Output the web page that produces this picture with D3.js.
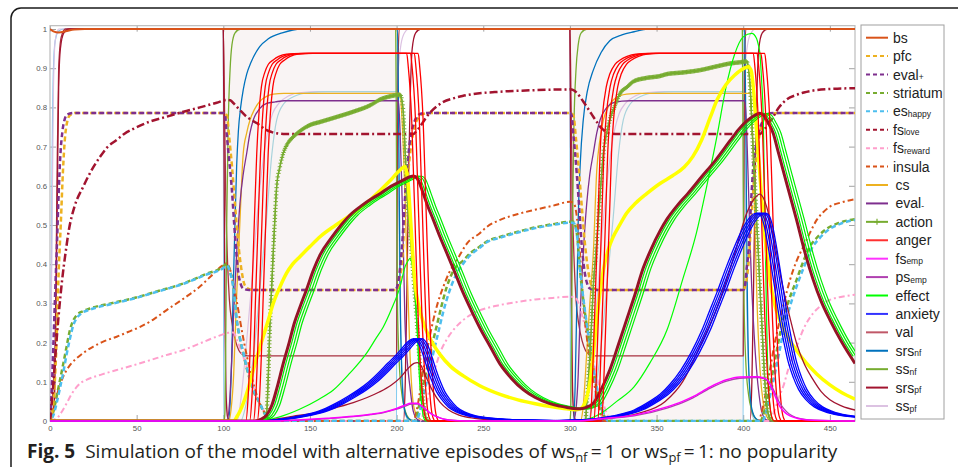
<!DOCTYPE html>
<html>
<head>
<meta charset="utf-8">
<script src="https://cdn.jsdelivr.net/npm/d3@7"></script>
<style>
  body { margin: 0; background: #fff; }
  svg { display: block; }
</style>
</head>
<body>
<svg id="chart" width="958" height="467"></svg>
<script>
// ---------- axis ticks and episodes ----------
const xTicks = [0, 50, 100, 150, 200, 250, 300, 350, 400, 450];
const yTicks = [0, 0.1, 0.2, 0.3, 0.4, 0.5, 0.6, 0.7, 0.8, 0.9, 1];
const episodeSpans = [[100, 200], [300, 400]];
const timeMax = 464.5;

// ---------- state trajectories: [time, value] ----------
const bs = [[0,1],[2,0.994],[5,0.991],[9,0.994],[14,0.999],[20,1],[464.5,1]];

const pfc = [[0,0],[2,0.05],[3.5,0.17],[5,0.38],[6.2,0.5],[7.5,0.64],[8.6,0.72],[10,0.765],[11.5,0.78],[15,0.786],[100,0.786],[102,0.78],[103.5,0.72],[105,0.65],[106.8,0.55],[108.5,0.46],[110.5,0.385],[112.5,0.345],[115,0.336],[118,0.334],[200,0.334],[201.5,0.35],[203,0.4],[204.5,0.5],[206,0.6],[207.5,0.67],[209,0.72],[211.5,0.765],[215,0.783],[220,0.786],[300,0.786],[302,0.78],[303.5,0.72],[305,0.65],[306.8,0.55],[308.5,0.46],[310.5,0.385],[312.5,0.345],[315,0.336],[318,0.334],[400,0.334],[401.5,0.35],[403,0.4],[404.5,0.5],[406,0.6],[407.5,0.67],[409,0.72],[411.5,0.765],[415,0.783],[420,0.786],[464.5,0.786]];

const evalPos = [[0,0],[1,0.08],[2,0.2],[3,0.33],[4,0.45],[5,0.58],[6,0.68],[7.2,0.74],[8.5,0.77],[10,0.782],[14,0.786],[100,0.786],[101,0.78],[102,0.73],[103,0.683],[104.8,0.598],[106.8,0.47],[108.7,0.377],[110,0.35],[111.5,0.338],[115,0.334],[199,0.334],[200.5,0.345],[202,0.39],[203.5,0.47],[205,0.58],[206.8,0.68],[208.5,0.735],[210,0.76],[213.5,0.783],[218,0.786],[300,0.786],[301,0.78],[302,0.73],[303,0.683],[304.8,0.58],[306.8,0.45],[308.5,0.38],[310,0.35],[311.5,0.338],[315,0.334],[400,0.334],[401,0.345],[402,0.39],[403,0.43],[404.8,0.58],[406,0.66],[407.7,0.708],[409.5,0.745],[411.6,0.768],[415.4,0.785],[420,0.786],[464.5,0.786]];

const striatum = [[0,0],[2,0.025],[3.8,0.062],[5.8,0.105],[7.7,0.147],[9.6,0.19],[11.5,0.232],[13.5,0.257],[15.4,0.27],[19,0.28],[23,0.287],[35,0.3],[48,0.313],[62,0.331],[77,0.351],[90,0.375],[100,0.394],[102,0.402],[104,0.38],[105.8,0.343],[107.7,0.258],[109.6,0.21],[111.5,0.173],[113.5,0.135],[115.4,0.105],[118,0.07],[121,0.045],[123,0.025],[125,0.011],[128,0],[210,0],[211.5,0.01],[213,0.04],[215,0.085],[217.3,0.13],[220,0.185],[223,0.24],[226,0.295],[229,0.343],[233,0.385],[238.5,0.41],[243,0.43],[248,0.445],[252,0.458],[260,0.47],[270,0.483],[280,0.494],[290,0.502],[300,0.508],[302,0.508],[304,0.479],[305.8,0.385],[308.7,0.275],[311.6,0.19],[314.5,0.105],[317.4,0.045],[320,0.011],[322,0],[410,0],[411.5,0.015],[413.5,0.05],[415.5,0.09],[417.3,0.13],[420,0.195],[423,0.258],[426.5,0.31],[430.8,0.36],[434.5,0.405],[438.5,0.445],[443,0.47],[448,0.49],[455,0.505],[464.5,0.515]];

const esHappy = [[0,0],[2,0.015],[3.8,0.045],[5.8,0.085],[7.7,0.125],[9.6,0.17],[11.5,0.21],[13.5,0.245],[15.4,0.262],[18,0.274],[23,0.284],[35,0.298],[48,0.312],[62,0.33],[77,0.35],[90,0.373],[100,0.39],[102,0.397],[104,0.378],[105.8,0.34],[107.7,0.26],[109.6,0.212],[111.5,0.175],[113.5,0.138],[115.4,0.108],[118,0.073],[121,0.047],[123,0.027],[125,0.012],[128,0],[211,0],[212.5,0.01],[214,0.035],[216,0.075],[218.5,0.12],[221,0.17],[224,0.225],[227,0.28],[230,0.325],[234,0.37],[238.5,0.402],[243,0.425],[248,0.442],[252,0.456],[260,0.468],[270,0.481],[280,0.492],[290,0.5],[300,0.506],[302,0.506],[304,0.477],[305.8,0.39],[308.7,0.28],[311.6,0.195],[314.5,0.11],[317.4,0.05],[320,0.013],[322,0],[411,0],[412.5,0.012],[414.5,0.045],[416.5,0.085],[418.5,0.125],[421,0.18],[424,0.245],[427.5,0.3],[431.5,0.352],[435.5,0.398],[439.5,0.44],[444,0.466],[449,0.487],[456,0.503],[464.5,0.513]];

const fsLove = [[0,0],[1.5,0.07],[3,0.16],[5,0.27],[7,0.36],[9,0.43],[11,0.49],[14,0.545],[19.2,0.598],[24,0.64],[28.9,0.674],[33,0.698],[38.5,0.717],[43,0.733],[48,0.745],[57.7,0.764],[67,0.776],[77,0.789],[86.5,0.8],[96.2,0.812],[102,0.819],[104,0.818],[106,0.81],[107.7,0.802],[110.5,0.789],[113.5,0.776],[116.5,0.767],[119.3,0.76],[122,0.751],[125,0.742],[128,0.737],[130.8,0.734],[136,0.732],[209.6,0.732],[211.5,0.74],[213.5,0.751],[215.5,0.764],[217.3,0.776],[220,0.79],[223,0.802],[227,0.814],[232.7,0.823],[238,0.829],[244.3,0.834],[259.7,0.84],[280,0.844],[300,0.846],[302,0.844],[304,0.837],[305.8,0.827],[307.7,0.815],[309.7,0.802],[311.6,0.789],[313.5,0.776],[315.5,0.763],[317.4,0.751],[319.3,0.743],[321.2,0.736],[324,0.733],[328,0.732],[409.7,0.732],[411.5,0.74],[413.5,0.751],[415.5,0.764],[417.3,0.776],[419,0.789],[421,0.802],[425,0.82],[430.8,0.832],[435,0.838],[440.4,0.843],[450,0.847],[464.5,0.849]];

const fsReward = [[0,0],[3,0.005],[5,0.012],[7,0.025],[9.6,0.045],[12,0.065],[15.4,0.087],[18,0.098],[21,0.105],[30,0.119],[38.5,0.13],[48,0.142],[57.7,0.155],[67,0.168],[77,0.181],[86,0.197],[96,0.215],[103,0.225],[105.8,0.226],[108,0.205],[111.5,0.164],[114.5,0.125],[117.3,0.087],[120,0.055],[123,0.028],[125.5,0.01],[128,0],[213.5,0],[215.5,0.02],[217.5,0.05],[219.3,0.087],[222,0.13],[225,0.173],[228.5,0.205],[232.7,0.232],[238,0.256],[244.3,0.275],[252,0.288],[259.7,0.296],[270,0.304],[280,0.31],[290,0.314],[300,0.317],[302,0.316],[304,0.31],[305.8,0.29],[307.7,0.258],[309.7,0.228],[311.6,0.198],[313.5,0.155],[315.5,0.113],[317.4,0.075],[319.3,0.045],[321.2,0.02],[323,0.005],[325,0],[415.4,0],[417.5,0.02],[419.5,0.045],[421.5,0.07],[423,0.087],[426.5,0.14],[430.8,0.19],[435,0.237],[440.4,0.275],[445,0.295],[450,0.309],[457,0.317],[464.5,0.322]];

const insula = [[0,0],[1.5,0.02],[3,0.045],[4.8,0.079],[7,0.107],[9.6,0.13],[12.5,0.148],[15.4,0.16],[20,0.176],[25,0.19],[31,0.203],[38.5,0.215],[45,0.227],[52,0.24],[60,0.26],[67.3,0.283],[77,0.312],[86.5,0.343],[93,0.37],[100,0.398],[102,0.402],[104,0.385],[106,0.345],[108,0.3],[109.6,0.258],[112,0.2],[115.4,0.13],[118,0.085],[120.5,0.05],[123,0.028],[125,0.012],[127.5,0],[209.6,0],[211.5,0.025],[213.5,0.075],[215.4,0.13],[218,0.19],[221.2,0.258],[224,0.305],[227,0.343],[230.5,0.38],[234.7,0.41],[241,0.455],[248,0.479],[252,0.495],[259.7,0.513],[270,0.528],[279,0.538],[290,0.549],[300,0.559],[302,0.556],[303,0.547],[304.5,0.5],[305.8,0.428],[307.7,0.3],[309.7,0.215],[312.6,0.13],[315.5,0.062],[318.3,0.011],[320,0],[408.7,0],[410.5,0.02],[412.5,0.06],[415.4,0.13],[418,0.195],[421.2,0.258],[424,0.31],[427,0.36],[430.5,0.405],[434.7,0.445],[438.5,0.48],[442.4,0.513],[446,0.532],[450,0.547],[457,0.558],[464.5,0.566]];

const cs = [[0,0],[103,0],[104.5,0.03],[106,0.12],[107.5,0.3],[109.5,0.5],[111.5,0.683],[113.5,0.735],[115.4,0.768],[118,0.795],[121,0.815],[125,0.828],[128.8,0.834],[135,0.836],[202,0.836],[203,0.78],[204,0.683],[205,0.55],[205.8,0.428],[207.7,0.173],[209.6,0.045],[211.5,0.015],[214,0.004],[217,0],[306,0],[307.5,0.03],[309.7,0.173],[311.5,0.3],[313.5,0.428],[315.5,0.64],[317.4,0.72],[319.3,0.768],[322,0.8],[325,0.819],[329,0.83],[332.7,0.834],[340,0.836],[404,0.836],[405,0.76],[405.8,0.683],[406.8,0.5],[407.7,0.343],[409.7,0.13],[411.6,0.045],[413.5,0.012],[416,0],[464.5,0]];

const evalNeg = [[0,0],[102,0],[103.5,0.04],[104.5,0.12],[105.8,0.258],[107.7,0.428],[109.6,0.555],[111.5,0.63],[113.5,0.683],[115.4,0.735],[117.3,0.768],[121,0.797],[125,0.81],[130,0.814],[135,0.817],[201,0.817],[202,0.74],[203,0.598],[204,0.42],[204.8,0.258],[206,0.16],[207.7,0.087],[209.6,0.025],[212,0.004],[215,0],[302,0],[303.5,0.03],[304.8,0.12],[305.8,0.258],[307.7,0.428],[309.7,0.555],[311.5,0.63],[313.5,0.683],[315.5,0.735],[317.4,0.768],[321,0.798],[325,0.812],[330,0.816],[335,0.817],[401,0.817],[402,0.74],[403,0.598],[404,0.45],[404.9,0.343],[406.3,0.22],[407.7,0.13],[409.2,0.065],[410.6,0.025],[413,0.004],[416,0],[464.5,0]];

const action = [[0,0],[124,0],[125,0.02],[126,0.12],[127,0.258],[128,0.35],[128.8,0.428],[129.8,0.52],[130.8,0.598],[132.5,0.645],[134.6,0.683],[137,0.707],[140.4,0.725],[145,0.742],[150,0.755],[156,0.763],[165,0.775],[175,0.789],[185,0.806],[190.4,0.82],[196,0.828],[202,0.832],[203,0.82],[203.9,0.785],[205,0.68],[205.8,0.598],[207.2,0.51],[208.7,0.428],[210.2,0.34],[211.6,0.258],[213,0.17],[214.5,0.087],[216,0.03],[217.3,0.005],[219,0],[309,0],[309.7,0.045],[310.6,0.1],[311.6,0.173],[312.5,0.25],[313.5,0.343],[315,0.43],[316.4,0.513],[317.8,0.6],[319.3,0.683],[321,0.73],[323,0.768],[326,0.805],[329,0.836],[333,0.852],[336.6,0.866],[344,0.875],[352,0.88],[356,0.885],[365,0.889],[375,0.895],[385,0.905],[392.4,0.912],[398,0.915],[402,0.917],[403,0.9],[404,0.853],[405,0.76],[405.8,0.683],[406.8,0.6],[407.7,0.513],[408.7,0.43],[409.6,0.343],[410.6,0.26],[411.6,0.173],[412.5,0.1],[413.5,0.045],[415,0.01],[416.5,0],[464.5,0]];

const anger = [[0,0],[113,0],[114.3,0.06],[115.4,0.173],[116.3,0.3],[117.3,0.428],[118.3,0.56],[119.3,0.683],[120.5,0.78],[122,0.853],[124,0.89],[126,0.91],[128.8,0.921],[132,0.93],[136.5,0.936],[145,0.938],[205.8,0.938],[206.8,0.9],[207.7,0.85],[208.7,0.768],[209.6,0.65],[210.6,0.513],[211.5,0.385],[212.5,0.258],[213.5,0.16],[214.5,0.087],[215.5,0.035],[216.5,0.01],[218,0],[311.6,0],[312.6,0.06],[313.5,0.173],[314.5,0.3],[315.5,0.428],[316.5,0.56],[317.4,0.683],[318.8,0.78],[321,0.853],[323,0.885],[326,0.91],[329,0.921],[333,0.93],[338,0.936],[345,0.938],[405.8,0.938],[406.8,0.9],[407.7,0.85],[408.7,0.768],[409.6,0.65],[410.6,0.513],[411.5,0.385],[412.5,0.258],[413.5,0.16],[414.5,0.087],[415.5,0.035],[416.5,0.01],[418,0],[464.5,0]];
const angerLags = [0, 2.2, 4.4, 6.6];

const fsEmp = [[0,0],[130,0],[145,0.003],[160,0.007],[175,0.012],[185,0.017],[192,0.022],[200,0.032],[205,0.041],[208,0.045],[212,0.045],[214.5,0.038],[217.3,0.028],[220,0.018],[223,0.011],[227,0.005],[233,0.001],[240,0],[305,0],[318,0.006],[337,0.015],[356,0.036],[365,0.05],[371,0.062],[381,0.087],[390.4,0.105],[398,0.112],[407.7,0.113],[413.5,0.106],[415.5,0.093],[417.3,0.075],[419.5,0.052],[421,0.038],[424,0.022],[427,0.013],[432,0.006],[440,0.002],[464.5,0]];

const psEmp = [[0,0],[130,0],[145,0.002],[160,0.006],[175,0.011],[185,0.016],[192,0.021],[200,0.03],[205,0.038],[208.5,0.043],[212.5,0.043],[215,0.036],[218,0.025],[221,0.016],[224,0.01],[228,0.004],[235,0.001],[242,0],[305,0],[318,0.005],[337,0.013],[356,0.033],[365,0.047],[371,0.059],[381,0.084],[390.4,0.102],[398,0.109],[408,0.111],[414,0.104],[416,0.092],[418,0.075],[420,0.055],[422,0.04],[425,0.024],[428,0.014],[433,0.006],[441,0.002],[464.5,0]];

const effectPulse = [[0,0],[120,0],[132,0.01],[144,0.03],[155,0.055],[163.5,0.079],[173,0.122],[182.7,0.173],[188,0.21],[192.3,0.24],[197,0.285],[202,0.343],[205,0.395],[206.8,0.41],[207.7,0.415],[208.7,0.405],[209.6,0.377],[210.6,0.33],[211.6,0.258],[212.5,0.17],[213.5,0.087],[214.5,0.04],[215.5,0.01],[217,0],[300,0],[310,0.005],[318,0.02],[327,0.05],[337,0.087],[346,0.147],[356,0.232],[365,0.36],[373,0.48],[379,0.6],[385,0.73],[390,0.85],[395,0.935],[400,0.98],[404.9,0.989],[407.7,0.976],[408.7,0.96],[409.6,0.938],[410.6,0.87],[411.6,0.768],[412.5,0.513],[413.5,0.258],[414.5,0.087],[415.5,0.035],[416.4,0.01],[418,0],[464.5,0]];

const effectWave = [[0,0],[120.5,0],[124.5,0.005],[127.5,0.015],[130.5,0.04],[133.5,0.085],[137.1,0.147],[140.5,0.2],[143.5,0.25],[146.7,0.29],[150.5,0.335],[154.5,0.385],[158.5,0.425],[164.5,0.465],[170.5,0.5],[175.5,0.525],[182.5,0.55],[188.5,0.568],[192.9,0.58],[197.5,0.594],[202.5,0.606],[206.5,0.615],[210.2,0.623],[212.1,0.625],[214.5,0.618],[217.9,0.58],[220.5,0.548],[223.7,0.513],[227.5,0.47],[231.5,0.428],[236,0.38],[241,0.326],[245.5,0.283],[250.5,0.238],[256.5,0.19],[262.2,0.145],[268.5,0.11],[275.5,0.08],[282.5,0.06],[290.5,0.045],[296.8,0.038],[301.5,0.034],[304.5,0.032],[308.3,0.031],[311.5,0.034],[316,0.045],[320.5,0.08],[325.5,0.13],[330.5,0.195],[335.2,0.258],[340,0.322],[344.8,0.39],[349.5,0.44],[354.5,0.485],[358.5,0.515],[364.5,0.55],[370.5,0.58],[378.5,0.623],[386.5,0.665],[394.9,0.715],[399.5,0.742],[404.5,0.765],[408.5,0.778],[412.1,0.785],[414.5,0.779],[417,0.76],[419.8,0.734],[422.5,0.69],[425.5,0.64],[429.5,0.575],[433.3,0.513],[437.5,0.44],[442.9,0.36],[447.5,0.305],[452.5,0.258],[459.5,0.2],[464.5,0.165]];
const effectLags = [-1, 0.5, 2];

const anxiety = [[0,0],[120,0],[135,0.006],[144,0.013],[155,0.025],[164,0.043],[172,0.063],[178,0.08],[184,0.1],[190,0.125],[195,0.148],[199,0.165],[203,0.185],[206,0.2],[208.5,0.208],[210,0.21],[211.5,0.205],[213.5,0.19],[215.5,0.165],[218,0.13],[220.5,0.1],[223,0.075],[226,0.055],[230,0.035],[235,0.022],[241,0.013],[250,0.007],[260,0.004],[275,0.002],[290,0.001],[300,0.002],[310,0.004],[318,0.008],[327,0.015],[337,0.028],[346,0.05],[352,0.068],[358,0.095],[364,0.13],[370,0.175],[376,0.23],[380.5,0.28],[385,0.33],[390,0.39],[395,0.445],[399,0.485],[403,0.515],[406,0.528],[408,0.53],[410,0.525],[412,0.5],[414,0.455],[416,0.4],[418.5,0.33],[421,0.258],[423.5,0.2],[426,0.15],[429,0.11],[432,0.08],[436,0.055],[441,0.036],[447,0.024],[455,0.015],[464.5,0.01]];
const anxietyLags = [0, 1.2, 2.4, 3.6, 4.8];

const val = [[0,0],[3,0.2],[4,0.6],[5,0.9],[6.5,0.98],[9,1],[100,1],[100.7,0.8],[101.5,0.55],[102.5,0.4],[103.5,0.31],[105,0.25],[107,0.205],[109,0.18],[111,0.17],[114,0.166],[200,0.166],[200.3,0.5],[200.8,0.9],[201.5,1],[300,1],[300.7,0.8],[301.5,0.55],[302.5,0.4],[303.5,0.31],[305,0.25],[307,0.205],[309,0.18],[311,0.17],[314,0.166],[400,0.166],[400.3,0.5],[400.8,0.9],[401.5,1],[464.5,1]];

const srsNf = [[0,0],[103,0],[104,0.05],[104.8,0.15],[105.8,0.35],[106.8,0.513],[107.7,0.65],[108.7,0.74],[110,0.8],[111.5,0.845],[113.5,0.885],[116,0.915],[121,0.955],[126,0.975],[134,0.99],[145,1],[200.5,1],[201.3,0.7],[202,0.35],[203,0.12],[204.5,0.03],[207,0.005],[210,0],[302,0],[303,0.087],[304,0.3],[304.8,0.513],[306,0.66],[307.7,0.768],[310,0.84],[313.5,0.895],[318,0.94],[323,0.97],[330,0.985],[337,0.993],[345,1],[400.8,1],[401.6,0.7],[402.3,0.35],[403.3,0.12],[405,0.03],[407.5,0.005],[410,0],[464.5,0]];

const ssNf = [[0,0],[100.5,0],[101,0.03],[101.5,0.25],[102,0.513],[102.8,0.75],[103.9,0.895],[105,0.96],[106.8,0.99],[110,1],[199.5,1],[200,0.6],[200.5,0.3],[201.5,0.15],[203,0.07],[205,0.025],[207,0.007],[210,0],[300,0],[300.5,0.03],[301,0.25],[301.5,0.513],[302.3,0.75],[303.5,0.895],[304.8,0.96],[306.5,0.99],[310,1],[399.5,1],[400,0.6],[400.5,0.3],[401.5,0.15],[403,0.07],[405,0.025],[407,0.007],[410,0],[464.5,0]];

const srsPf = [[0,0],[2.5,0.05],[3.5,0.3],[4.3,0.6],[5,0.85],[6,0.95],[8,0.99],[11,1],[100,1],[100.4,0.7],[100.9,0.3],[101.5,0.08],[102.5,0.01],[104,0],[204,0],[205,0.1],[206,0.35],[207,0.65],[208,0.85],[209,0.95],[211,0.99],[214,1],[300,1],[300.4,0.7],[300.9,0.3],[301.5,0.08],[302.5,0.01],[304,0],[404,0],[405,0.1],[406,0.35],[407,0.65],[408,0.85],[409,0.95],[411,0.99],[414,1],[464.5,1]];

const ssPf = [[0,0],[1,0.4],[2,0.85],[3,0.97],[5,1],[100,1],[100.5,0.5],[101.5,0.1],[103,0],[108,0],[110,0.05],[113,0.18],[116,0.33],[119.3,0.513],[122,0.63],[125,0.725],[128.5,0.785],[132,0.81],[138,0.83],[145,0.838],[155,0.84],[200,0.84],[201,0.9],[202.5,0.96],[204.5,0.99],[207,1],[300,1],[300.5,0.5],[301.5,0.1],[303,0],[308,0],[310,0.05],[313,0.18],[316,0.33],[319.3,0.513],[322,0.63],[325,0.725],[328.5,0.785],[332,0.81],[338,0.83],[345,0.838],[355,0.84],[400,0.84],[401,0.9],[402.5,0.96],[404.5,0.99],[407,1],[464.5,1]];

// unlabelled traces
const skyTrace = [[0,0],[0.7,0.3],[1.3,0.7],[2,0.9],[3,0.97],[5,0.995],[8,1],[100,1],[100.3,0],[200,0],[200.3,1],[300,1],[300.3,0],[400,0],[400.3,1],[464.5,1]];

const tealTrace = [[0,0],[110,0],[113,0.04],[117,0.15],[121,0.33],[125,0.52],[128,0.68],[130.8,0.768],[135,0.81],[140.4,0.827],[150,0.838],[160,0.84],[200,0.84],[201,0.6],[202,0.3],[203.5,0.1],[205,0.02],[207,0],[310,0],[313,0.04],[317,0.15],[321,0.33],[325,0.52],[328,0.68],[330.8,0.768],[335,0.81],[340.4,0.827],[350,0.838],[360,0.84],[400,0.84],[401,0.6],[402,0.3],[403.5,0.1],[405,0.02],[407,0],[464.5,0]];

const yellowWave = [[0,0],[105.8,0],[108,0.012],[111.5,0.045],[114.5,0.085],[117.3,0.13],[120,0.172],[123,0.215],[126,0.258],[128.8,0.3],[132.5,0.34],[136.5,0.377],[140,0.4],[144.2,0.419],[150,0.445],[155.8,0.47],[165,0.5],[175,0.53],[185,0.565],[196,0.612],[202,0.64],[204.8,0.649],[205.8,0.635],[206.8,0.598],[207.7,0.54],[208.7,0.47],[209.6,0.405],[210.6,0.35],[212,0.31],[213.5,0.28],[215.5,0.25],[218,0.222],[221,0.197],[225,0.17],[231,0.14],[238.5,0.115],[248,0.09],[259.7,0.068],[270,0.054],[280,0.044],[290,0.036],[298,0.031],[303,0.029],[306,0.031],[308.5,0.045],[310,0.065],[311.6,0.1],[313.5,0.17],[315.5,0.258],[317.4,0.33],[319.3,0.385],[322,0.435],[325,0.47],[328.7,0.5],[332.7,0.53],[338,0.556],[344.3,0.58],[352,0.606],[359,0.625],[366,0.648],[371,0.675],[376,0.717],[381,0.775],[385,0.82],[390,0.858],[395,0.882],[399,0.896],[403,0.904],[404.5,0.895],[405.8,0.853],[407.2,0.77],[408.7,0.683],[410.1,0.6],[411.6,0.513],[413.5,0.43],[415.4,0.36],[418,0.3],[421.2,0.255],[425,0.22],[430.8,0.18],[436,0.15],[442.4,0.12],[450,0.092],[457,0.072],[464.5,0.056]];

const crimsonWave = [[0,0],[118,0],[122,0.005],[125,0.015],[128,0.04],[131,0.085],[134.6,0.147],[138,0.2],[141,0.25],[144.2,0.29],[148,0.335],[152,0.385],[156,0.425],[162,0.465],[168,0.5],[173,0.525],[180,0.55],[186,0.568],[190.4,0.58],[195,0.594],[200,0.606],[204,0.615],[207.7,0.623],[209.6,0.625],[212,0.618],[215.4,0.58],[218,0.548],[221.2,0.513],[225,0.47],[229,0.428],[233.5,0.38],[238.5,0.326],[243,0.283],[248,0.238],[254,0.19],[259.7,0.145],[266,0.11],[273,0.08],[280,0.06],[288,0.045],[294.3,0.038],[299,0.034],[302,0.032],[305.8,0.031],[309,0.034],[313.5,0.045],[318,0.08],[323,0.13],[328,0.195],[332.7,0.258],[337.5,0.322],[342.3,0.39],[347,0.44],[352,0.485],[356,0.515],[362,0.55],[368,0.58],[376,0.623],[384,0.665],[392.4,0.715],[397,0.742],[402,0.765],[406,0.778],[409.6,0.785],[412,0.779],[414.5,0.76],[417.3,0.734],[420,0.69],[423,0.64],[427,0.575],[430.8,0.513],[435,0.44],[440.4,0.36],[445,0.305],[450,0.258],[457,0.2],[464.5,0.147]];

const crimsonPulse = [[0,0],[120,0],[140,0.012],[155,0.022],[165,0.034],[175,0.047],[183,0.06],[190,0.074],[197,0.092],[202,0.11],[207,0.136],[210,0.147],[212,0.149],[214,0.142],[217,0.112],[221,0.075],[225,0.048],[230,0.028],[236,0.015],[245,0.007],[260,0.002],[275,0],[300,0],[320,0.006],[340,0.02],[355,0.05],[365,0.1],[375,0.19],[385,0.29],[394,0.41],[402,0.53],[406,0.565],[409.7,0.579],[411.5,0.57],[413.5,0.547],[416.5,0.49],[419.3,0.428],[422,0.36],[425,0.3],[428,0.245],[430.8,0.198],[435,0.148],[440.4,0.105],[445,0.075],[450,0.054],[457,0.038],[464.5,0.028]];

// ---------- legend entries ----------
const legendNames = ["bs","pfc","eval","striatum","es","fs","fs","insula","cs","eval","action","anger","fs","ps","effect","anxiety","val","srs","ss","srs","ss"];
const legendSubs  = ["","","+","","happy","love","reward","","","-","","","emp","emp","","","","nf","nf","pf","pf"];

// ---------- drawing ----------
const svg = d3.select("#chart");
const x = d3.scaleLinear().domain([0, timeMax]).range([50, 855]);
const y = d3.scaleLinear().domain([0, 1]).range([421, 29]);
const yTop = y(1.0085);

// outer figure frame
svg.append("rect")
  .attr("x", 11).attr("y", 8).attr("width", 1000).attr("height", 600)
  .attr("rx", 10).attr("fill", "none").attr("stroke", "#1a1a1a").attr("stroke-width", 1.5);

svg.append("defs").append("clipPath").attr("id", "plotClip")
  .append("rect").attr("x", x(0)).attr("y", yTop).attr("width", x(timeMax) - x(0)).attr("height", y(0) - yTop + 1);

// episode shading
svg.append("g").selectAll("rect").data(episodeSpans).join("rect")
  .attr("x", d => x(d[0])).attr("width", d => x(d[1]) - x(d[0]))
  .attr("y", yTop).attr("height", y(0) - yTop)
  .attr("fill", "#f9f4f4");

// axes with inward ticks
const tickFont = "'Liberation Sans', Arial, sans-serif";
const axL = svg.append("g").attr("transform", `translate(${x(0)},0)`)
  .call(d3.axisLeft(y).tickValues(yTicks).tickSizeInner(-6).tickSizeOuter(0).tickPadding(3)
        .tickFormat(d => d3.format("~g")(d)));
const axB = svg.append("g").attr("transform", `translate(0,${y(0)})`)
  .call(d3.axisBottom(x).tickValues(xTicks).tickSizeInner(-6).tickSizeOuter(0).tickPadding(4));
const axR = svg.append("g").attr("transform", `translate(${x(timeMax)},0)`)
  .call(d3.axisRight(y).tickValues(yTicks).tickSizeInner(-6).tickSizeOuter(0).tickFormat(""));
const axT = svg.append("g").attr("transform", `translate(0,${yTop})`)
  .call(d3.axisTop(x).tickValues(xTicks).tickSizeInner(-6).tickSizeOuter(0).tickFormat(""));
[axL, axB, axR, axT].forEach(a => {
  a.select(".domain").remove();
  a.selectAll(".tick line").attr("stroke", "#8a8a8a").attr("stroke-width", 0.8);
  a.selectAll(".tick text").attr("fill", "#555").attr("font-size", 7.8).attr("font-family", tickFont);
});

// plot frame
svg.append("rect")
  .attr("x", x(0)).attr("y", yTop).attr("width", x(timeMax) - x(0)).attr("height", y(0) - yTop)
  .attr("fill", "none").attr("stroke", "#bcbcbc").attr("stroke-width", 1.2);

const line = d3.line().x(d => x(d[0])).y(d => y(d[1])).curve(d3.curveMonotoneX);
const plot = svg.append("g").attr("clip-path", "url(#plotClip)");
const shift = (arr, lag) => arr.map(([t, v]) => [t + lag, v]);

function trace(data, color, width, dash, offset) {
  const p = plot.append("path").attr("d", line(data))
    .attr("fill", "none").attr("stroke", color).attr("stroke-width", width)
    .attr("stroke-linejoin", "round");
  if (dash) p.attr("stroke-dasharray", dash).attr("stroke-dashoffset", offset || 0);
  return p;
}

// "+" markers along a drawn path, dense where it is flat
function plusMarks(node, color) {
  const L = node.getTotalLength();
  let last = null, d = "";
  for (let s = 0; s <= L; s += 0.4) {
    const p = node.getPointAtLength(s);
    if (p.y > y(0) - 1.5) continue;
    if (!last || Math.abs(p.x - last.x) >= 0.7 || Math.hypot(p.x - last.x, p.y - last.y) >= 3.2) {
      d += `M${(p.x - 2.2).toFixed(2)},${p.y.toFixed(2)}h4.4M${p.x.toFixed(2)},${(p.y - 2.2).toFixed(2)}v4.4`;
      last = p;
    }
  }
  plot.append("path").attr("d", d).attr("fill", "none").attr("stroke", color).attr("stroke-width", 1);
}

trace(skyTrace, "#7cc8ee", 1.2);
trace(ssPf, "#dcc2e2", 1.2);
trace(tealTrace, "#a9d3dc", 1.2);
trace(val, "#a8313f", 1.3);
trace(srsPf, "#a2142f", 1.3);
trace(ssNf, "#77ac30", 1.3);
trace(srsNf, "#0072bd", 1.3);
trace(cs, "#edb120", 1.3);
trace(evalNeg, "#7e2f8e", 1.3);
trace(fsReward, "#ff9fcc", 2, "6,3,2,3");
trace(insula, "#d95319", 2, "6,3,2,3");
trace(striatum, "#77ac30", 2.5, "5,3");
trace(esHappy, "#4dbeee", 2.5, "5,3", 4);
trace(pfc, "#edb120", 2.5, "5,3");
trace(evalPos, "#7e2f8e", 2.5, "5,3", 4);
trace(fsLove, "#a2142f", 2.5, "8,3,2,3");
const actPath = trace(action, "#77ac30", 1.4);
plusMarks(actPath.node(), "#77ac30");
trace(bs, "#d95319", 2);
trace(effectPulse, "#00ff00", 1.2);
trace(yellowWave, "#ffff00", 3.5);
effectLags.forEach(l => trace(shift(effectWave, l), "#00ee00", 1.2));
trace(crimsonWave, "#941426", 3);
angerLags.forEach(l => trace(shift(anger, l), "#ff0000", 1.3));
trace(crimsonPulse, "#a2142f", 1.3);
anxietyLags.forEach(l => trace(shift(anxiety, l), "#0000ff", 1.3));
trace(psEmp, "#b040b0", 1.3);
trace(fsEmp, "#ff00ff", 1.5);

// ---------- legend ----------
const legendStyles = [
  {c:"#d95319"},{c:"#edb120",dash:"4,3"},{c:"#7e2f8e",dash:"4,3"},{c:"#77ac30",dash:"4,3"},
  {c:"#4dbeee",dash:"4,3"},{c:"#a2142f",dash:"4,3"},{c:"#ff9fcc",dash:"4,3"},{c:"#d95319",dash:"4,3"},
  {c:"#edb120"},{c:"#7e2f8e"},{c:"#77ac30",mark:true},{c:"#ff3030"},{c:"#ff33ff"},{c:"#b040b0"},
  {c:"#00ff00"},{c:"#3333ff"},{c:"#c05868"},{c:"#0072bd"},{c:"#77ac30"},{c:"#a2142f"},{c:"#dcc2e2"}
];
const lg = svg.append("g");
lg.append("rect").attr("x", 861).attr("y", 25).attr("width", 83).attr("height", 394)
  .attr("fill", "#fff").attr("stroke", "#a0a0a0").attr("stroke-width", 1);
const ly = d3.scaleLinear().domain([0, 20]).range([37.7, 406]);
legendNames.forEach((name, i) => {
  const yy = ly(i), st = legendStyles[i];
  const l = lg.append("line").attr("x1", 866).attr("x2", 888).attr("y1", yy).attr("y2", yy)
    .attr("stroke", st.c).attr("stroke-width", 2);
  if (st.dash) l.attr("stroke-dasharray", st.dash);
  if (st.mark) lg.append("path").attr("d", `M874,${yy}h6M877,${yy - 3}v6`).attr("stroke", st.c).attr("stroke-width", 1.2);
  const tx = lg.append("text").attr("x", i < 8 ? 893 : 895.5).attr("y", yy + 5)
    .attr("font-family", tickFont).attr("font-size", 14).attr("fill", "#222").text(name);
  if (legendSubs[i]) tx.append("tspan").attr("font-size", 8.5).attr("dy", 0.5).text(legendSubs[i]);
});

// ---------- caption ----------
const cap = svg.append("text").attr("x", 27).attr("y", 458)
  .attr("font-family", "'Open Sans', 'Noto Sans', sans-serif").attr("font-size", 19).attr("fill", "#231f20");
cap.append("tspan").attr("font-weight", 700).text("Fig. 5");
cap.append("tspan").attr("dx", 10).text("Simulation of the model with alternative episodes of ws");
cap.append("tspan").attr("font-size", 13).attr("dy", 4).text("nf");
cap.append("tspan").attr("dy", -4).text("\u2009=\u20091 or ws");
cap.append("tspan").attr("font-size", 13).attr("dy", 4).text("pf");
cap.append("tspan").attr("dy", -4).text("\u2009=\u20091: no popularity");
</script>
</body>
</html>
